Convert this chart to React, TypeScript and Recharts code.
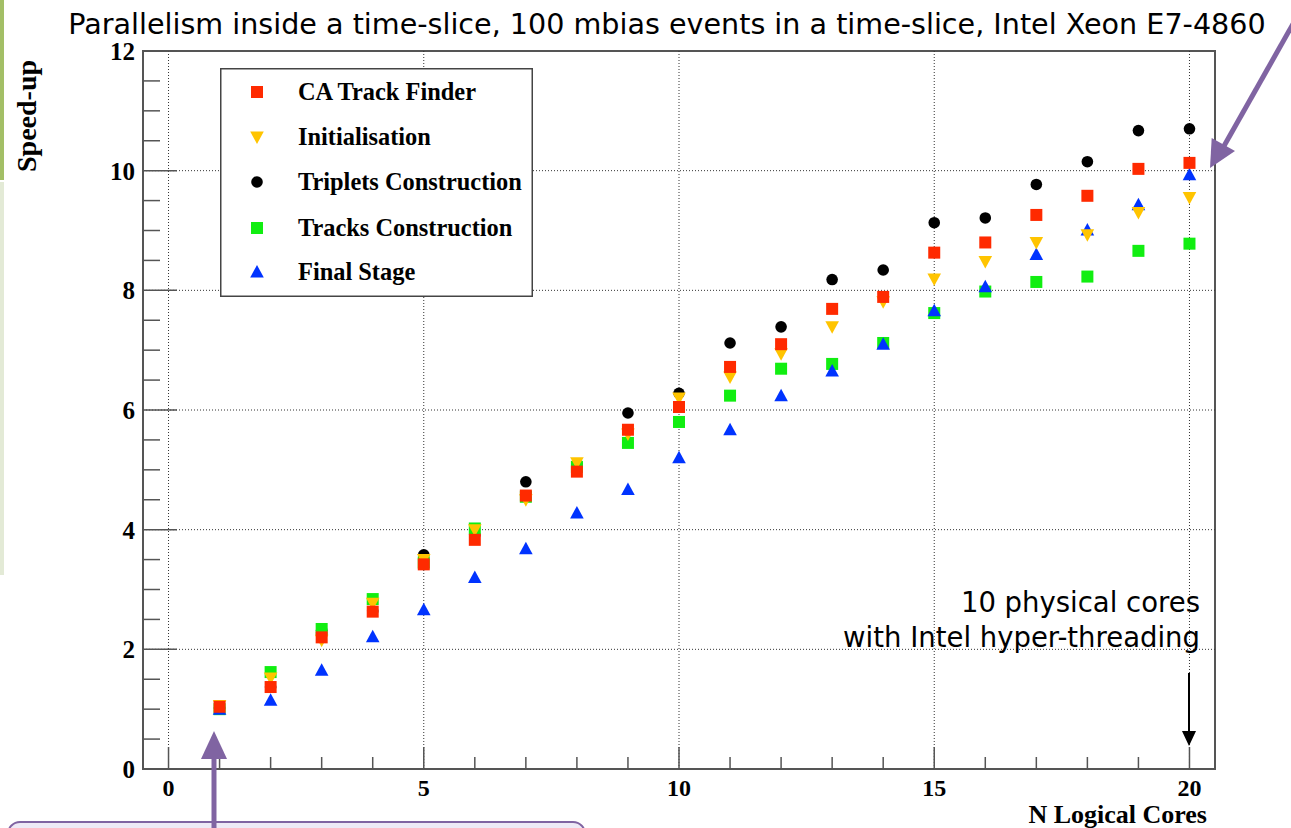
import React from 'react';
import { ScatterChart, Scatter, XAxis, YAxis, ReferenceLine, ReferenceArea, Legend } from 'recharts';

// N logical cores on the x axis
const CORES = [1, 2, 3, 4, 5, 6, 7, 8, 9, 10, 11, 12, 13, 14, 15, 16, 17, 18, 19, 20];

// speed-up per stage
const caTrackFinder = [1.04, 1.37, 2.2, 2.63, 3.42, 3.83, 4.57, 4.97, 5.67, 6.05, 6.72, 7.1, 7.69, 7.89, 8.63, 8.8, 9.26, 9.58, 10.03, 10.13];
const initialisation = [1.06, 1.52, 2.15, 2.77, 3.5, 4.0, 4.5, 5.12, 5.6, 6.2, 6.55, 6.94, 7.39, 7.81, 8.19, 8.48, 8.8, 8.93, 9.3, 9.55];
const tripletsConstruction = [1.02, 1.37, 2.32, 2.64, 3.58, 3.91, 4.8, 5.1, 5.95, 6.28, 7.12, 7.39, 8.18, 8.34, 9.13, 9.21, 9.77, 10.15, 10.67, 10.7];
const tracksConstruction = [1.0, 1.62, 2.34, 2.84, 3.45, 4.02, 4.55, 5.05, 5.45, 5.8, 6.24, 6.69, 6.77, 7.12, 7.62, 7.98, 8.14, 8.23, 8.66, 8.78];
const finalStage = [1.0, 1.15, 1.65, 2.21, 2.66, 3.2, 3.68, 4.28, 4.67, 5.2, 5.67, 6.24, 6.65, 7.1, 7.66, 8.06, 8.6, 9.01, 9.43, 9.93];

const X_TICKS = [0, 1, 2, 3, 4, 5, 6, 7, 8, 9, 10, 11, 12, 13, 14, 15, 16, 17, 18, 19, 20];
const Y_TICKS = [0, 0.5, 1, 1.5, 2, 2.5, 3, 3.5, 4, 4.5, 5, 5.5, 6, 6.5, 7, 7.5, 8, 8.5, 9, 9.5, 10, 10.5, 11, 11.5, 12];
const GRID_X = [0, 5, 10, 15, 20];
const GRID_Y = [2, 4, 6, 8, 10];

const TITLE = 'Parallelism inside a time-slice, 100 mbias events in a time-slice, Intel Xeon E7-4860';

type Kind = 'square' | 'circle' | 'triangleUp' | 'triangleDown';

// legend order
const SERIES: { name: string; values: number[]; color: string; kind: Kind }[] = [
  { name: 'CA Track Finder', values: caTrackFinder, color: '#ff2a00', kind: 'square' },
  { name: 'Initialisation', values: initialisation, color: '#ffc400', kind: 'triangleDown' },
  { name: 'Triplets Construction', values: tripletsConstruction, color: '#000000', kind: 'circle' },
  { name: 'Tracks Construction', values: tracksConstruction, color: '#11ee11', kind: 'square' },
  { name: 'Final Stage', values: finalStage, color: '#0033ff', kind: 'triangleUp' },
];

// drawing order (last on top)
const DRAW_ORDER = ['Triplets Construction', 'Tracks Construction', 'Final Stage', 'Initialisation', 'CA Track Finder'];

const SERIF = '"Liberation Serif", "Times New Roman", serif';
const SANS = '"DejaVu Sans", Verdana, sans-serif';
const AXIS_COLOR = '#555';

const Marker = ({ kind, cx, cy, color }: { kind: Kind; cx: number; cy: number; color: string }) => {
  if (cx == null || cy == null) return null;
  switch (kind) {
    case 'square':
      return <rect x={cx - 6} y={cy - 6} width={12} height={12} fill={color} />;
    case 'circle':
      return <circle cx={cx} cy={cy} r={5.8} fill={color} />;
    case 'triangleUp':
      return <polygon points={`${cx},${cy - 7} ${cx + 6.8},${cy + 5.5} ${cx - 6.8},${cy + 5.5}`} fill={color} />;
    case 'triangleDown':
      return <polygon points={`${cx},${cy + 7} ${cx + 6.8},${cy - 5.5} ${cx - 6.8},${cy - 5.5}`} fill={color} />;
  }
  return null;
};

const YTick = (props: any) => {
  const { x, y, payload } = props;
  const v = payload.value as number;
  const major = v % 2 === 0;
  return (
    <g>
      <line x1={x} y1={y} x2={x + (major ? 34 : 17)} y2={y} stroke={AXIS_COLOR} strokeWidth={1.5} />
      {major && (
        <text x={x - 8} y={y + 9} textAnchor="end" fontFamily={SERIF} fontWeight="bold" fontSize={25} fill="#000">
          {v}
        </text>
      )}
    </g>
  );
};

const XTick = (props: any) => {
  const { x, y, payload } = props;
  const v = payload.value as number;
  const major = v % 5 === 0;
  return (
    <g>
      <line x1={x} y1={y} x2={x} y2={y - (major ? 22 : 12)} stroke={AXIS_COLOR} strokeWidth={1.5} />
      {major && (
        <text x={x} y={y + 27} textAnchor="middle" fontFamily={SERIF} fontWeight="bold" fontSize={24} fill="#000">
          {v}
        </text>
      )}
    </g>
  );
};

const LegendBox = () => (
  <svg width={313} height={229} style={{ display: 'block' }}>
    <rect x={0.75} y={0.75} width={311.5} height={227.5} fill="#fff" stroke="#444" strokeWidth={1.5} />
    {SERIES.map((s, i) => {
      const cy = [24, 69, 114, 160, 204][i];
      return (
        <g key={s.name}>
          <Marker kind={s.kind} cx={37} cy={cy} color={s.color} />
          <text x={78} y={cy + 8} fontFamily={SERIF} fontWeight="bold" fontSize={24.4} fill="#000">
            {s.name}
          </text>
        </g>
      );
    })}
  </svg>
);

const Overlay = () => (
  <svg width={1291} height={828} style={{ position: 'absolute', left: 0, top: 0, pointerEvents: 'none' }}>
    <rect x={0} y={0} width={4} height={180} fill="#a3bf66" />
    <rect x={0} y={182} width={4} height={393} fill="#e3ead6" />
    <text x={667} y={34} textAnchor="middle" fontFamily={SANS} fontSize={28.6} fill="#000">
      {TITLE}
    </text>
    <text x={1200} y={612} textAnchor="end" fontFamily={SANS} fontSize={27.5} fill="#000">
      10 physical cores
    </text>
    <text x={1200} y={647} textAnchor="end" fontFamily={SANS} fontSize={27.5} fill="#000">
      with Intel hyper-threading
    </text>
    <line x1={1189} y1={673} x2={1189} y2={733} stroke="#000" strokeWidth={2} />
    <polygon points="1189,746 1182,731 1196,731" fill="#000" />
    <text x={1207} y={823} textAnchor="end" fontFamily={SERIF} fontWeight="bold" fontSize={26} fill="#000">
      N Logical Cores
    </text>
    <text
      x={0}
      y={0}
      transform="translate(36,116) rotate(-90)"
      textAnchor="middle"
      fontFamily={SERIF}
      fontWeight="bold"
      fontSize={28}
      fill="#000"
    >
      Speed-up
    </text>
    {/* purple callouts */}
    <rect x={8} y={822} width={577} height={40} rx={12} fill="#eeeaf6" stroke="#8064a2" strokeWidth={2} />
    <line x1={214} y1={828} x2={214} y2={756} stroke="#8064a2" strokeWidth={5} />
    <polygon points="214,731 201,759 227,759" fill="#8064a2" />
    <line x1={1293} y1={24} x2={1224} y2={146} stroke="#8064a2" strokeWidth={5} />
    <polygon points="1210,168 1211.7,138 1235,151" fill="#8064a2" />
  </svg>
);

const App: React.FC = () => {
  const ordered = DRAW_ORDER.map(n => SERIES.find(s => s.name === n)!);
  return (
    <div style={{ position: 'absolute', left: 0, top: 0, width: 1291, height: 828, background: '#fff' }}>
      <ScatterChart width={1291} height={828} margin={{ top: 51, right: 76, left: 83, bottom: 29 }}>
        <XAxis
          type="number"
          dataKey="x"
          domain={[-0.5, 20.5]}
          ticks={X_TICKS}
          interval={0}
          tickSize={0}
          tickMargin={0}
          tickLine={false}
          axisLine={false}
          height={30}
          tick={<XTick />}
        />
        <YAxis
          type="number"
          dataKey="y"
          domain={[0, 12]}
          ticks={Y_TICKS}
          interval={0}
          tickSize={0}
          tickMargin={0}
          tickLine={false}
          axisLine={false}
          width={60}
          tick={<YTick />}
        />
        {GRID_X.map(v => (
          <ReferenceLine key={`gx${v}`} x={v} stroke="#333" strokeDasharray="1 2" strokeWidth={1} />
        ))}
        {GRID_Y.map(v => (
          <ReferenceLine key={`gy${v}`} y={v} stroke="#333" strokeDasharray="1 2" strokeWidth={1} />
        ))}
        <ReferenceArea x1={-0.5} x2={20.5} y1={0} y2={12} fill="none" stroke={AXIS_COLOR} strokeWidth={2} />
        {ordered.map(s => (
          <Scatter
            key={s.name}
            name={s.name}
            data={CORES.map((c, i) => ({ x: c, y: s.values[i] }))}
            fill={s.color}
            isAnimationActive={false}
            shape={(p: any) => <Marker kind={s.kind} cx={p.cx} cy={p.cy} color={s.color} />}
          />
        ))}
        <Legend
          layout="vertical"
          align="center"
          verticalAlign="middle"
          wrapperStyle={{ left: 220, top: 68, width: 313, height: 229 }}
          content={() => <LegendBox />}
        />
      </ScatterChart>
      <Overlay />
    </div>
  );
};

export default App;
